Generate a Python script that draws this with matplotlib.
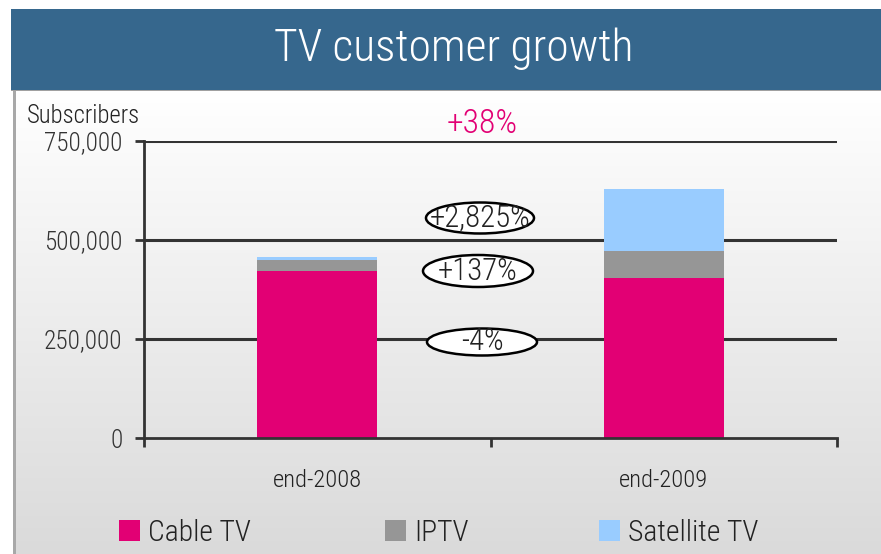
import numpy as np
import matplotlib
matplotlib.use("Agg")
import matplotlib.pyplot as plt
from matplotlib.patches import Rectangle, Ellipse
from matplotlib import font_manager as fm

# ---- data ----
categories = ["end-2008", "end-2009"]
series_names = ["Cable TV", "IPTV", "Satellite TV"]
cable_tv = [422000, 405000]
iptv = [28700, 68000]
satellite_tv = [5350, 156500]
growth_labels = ["+2,825%", "+137%", "-4%"]
total_growth_label = "+38%"
y_ticks = [0, 250000, 500000, 750000]
y_tick_labels = ["0", "250,000", "500,000", "750,000"]
y_label = "Subscribers"
title = "TV customer growth"

colors = ["#E20074", "#969696", "#99CCFF"]

names = {f.name for f in fm.fontManager.ttflist}
FONT = "DejaVu Sans"
for cand in ["Liberation Sans Narrow", "Arial Narrow", "Roboto Condensed",
             "Archivo Narrow", "PT Sans Narrow", "Open Sans Condensed"]:
    if cand in names:
        FONT = cand
        break
plt.rcParams["font.family"] = [FONT, "DejaVu Sans"]
plt.rcParams["font.weight"] = "light"

W, H = 881, 554
fig = plt.figure(figsize=(W / 100, H / 100), dpi=100)
renderer = fig.canvas.get_renderer()


def fx(px):
    return px / W


def fy(py):
    return (H - py) / H


def fit(t, target_w):
    """Scale a text's font size so its rendered width matches target_w px."""
    fs = t.get_fontsize()
    w = t.get_window_extent(renderer).width
    t.set_fontsize(fs * target_w / w)
    return t.get_fontsize()


# background gradient panel
bg = fig.add_axes([fx(13), 0, 1 - fx(13), fy(90)], zorder=-5)
grad = np.linspace(1.0, 0.855, 256).reshape(-1, 1)
bg.imshow(np.dstack([grad, grad, grad]), aspect="auto", extent=[0, 1, 0, 1],
          interpolation="bilinear")
bg.set_axis_off()
fig.add_artist(Rectangle((fx(13), 0), fx(3), fy(90), transform=fig.transFigure,
                         facecolor="#a8a8a8", edgecolor="none", zorder=-4))
# title banner
fig.add_artist(Rectangle((fx(11), fy(90)), 1 - fx(11), fy(9) - fy(90),
                         transform=fig.transFigure, facecolor="#36678D",
                         edgecolor="none", zorder=1))
fig.add_artist(Rectangle((fx(11), fy(91)), 1 - fx(11), fy(90) - fy(91),
                         transform=fig.transFigure, facecolor="#a0a0a0",
                         edgecolor="none", zorder=1))
tt = fig.text(fx(454), fy(61), title, ha="center", va="baseline", color="white",
              fontsize=30, zorder=2)
fit(tt, 359)

# main axes
ax = fig.add_axes([fx(144), fy(438), fx(837) - fx(144), fy(141) - fy(438)])
ax.patch.set_alpha(0)
x = np.arange(len(categories)) + 0.5
bw = 120 / 346.5
bottom = np.zeros(len(categories))
for vals, name, c in zip([cable_tv, iptv, satellite_tv], series_names, colors):
    ax.bar(x, vals, bw, bottom=bottom, color=c, label=name, zorder=2)
    bottom += np.array(vals)

ax.set_xlim(0, 2)
ax.set_ylim(0, 750000)
for yv in y_ticks[1:]:
    ax.axhline(yv, color="#333333", lw=2.2, zorder=1)

# measure sizes for tick labels
probe = fig.text(0, 0, "750,000", fontsize=16)
ytick_fs = fit(probe, 79)
probe.set_text("end-2008")
probe.set_fontsize(16)
xtick_fs = fit(probe, 89)
probe.remove()

ax.set_yticks(y_ticks)
ax.set_yticklabels(y_tick_labels)
ax.set_xticks([0, 1, 2])
ax.set_xticklabels([])
ax.set_xticks(x, minor=True)
ax.set_xticklabels(categories, minor=True)
ax.tick_params(axis="x", which="major", direction="out", length=6.5, width=2,
               color="#333333")
ax.tick_params(axis="x", which="minor", length=0, pad=22, labelsize=xtick_fs,
               labelcolor="#222222")
ax.tick_params(axis="y", direction="out", length=6.5, width=2, color="#333333",
               pad=9, labelsize=ytick_fs, labelcolor="#333333")
for s in ["top", "right"]:
    ax.spines[s].set_visible(False)
for s in ["left", "bottom"]:
    ax.spines[s].set_color("#333333")
    ax.spines[s].set_linewidth(2)

yl = fig.text(fx(27), fy(123), y_label, ha="left", va="baseline", fontsize=16,
              color="#222222")
fit(yl, 113)
tg = fig.text(fx(482), fy(133), total_growth_label, ha="center", va="baseline",
              fontsize=19, color="#E20074")
fit(tg, 71)


def px2data(px, py):
    return (px - 144) / 346.5, (438 - py) / 99 * 250000


probe = fig.text(0, 0, "+137%", fontsize=19)
ell_fs = fit(probe, 80)
probe.remove()

ell = [(480, 218, 108, 31), (478, 271, 110, 32), (482, 342, 110, 27)]
for (cx, cy, w, h), lab in zip(ell, growth_labels):
    dx, dy = px2data(cx, cy)
    e = Ellipse((dx, dy), w / 346.5, h / 99 * 250000, facecolor="white",
                edgecolor="black", lw=1.8, zorder=4, clip_on=False)
    ax.add_patch(e)
    ax.text(dx, dy, lab, ha="center", va="center", fontsize=ell_fs,
            color="#222222", zorder=5)

# legend (manual)
leg_x = [119, 385, 599]
probe = fig.text(0, 0, "Cable TV", fontsize=19)
leg_fs = fit(probe, 103)
probe.remove()
for lx, name, c in zip(leg_x, series_names, colors):
    fig.add_artist(Rectangle((fx(lx), fy(541)), fx(21), fy(520) - fy(541),
                             transform=fig.transFigure, facecolor=c,
                             edgecolor="none"))
    fig.text(fx(lx + 29), fy(541), name, ha="left", va="baseline",
             fontsize=leg_fs, color="#222222")

fig.savefig("out.png", dpi=100)
